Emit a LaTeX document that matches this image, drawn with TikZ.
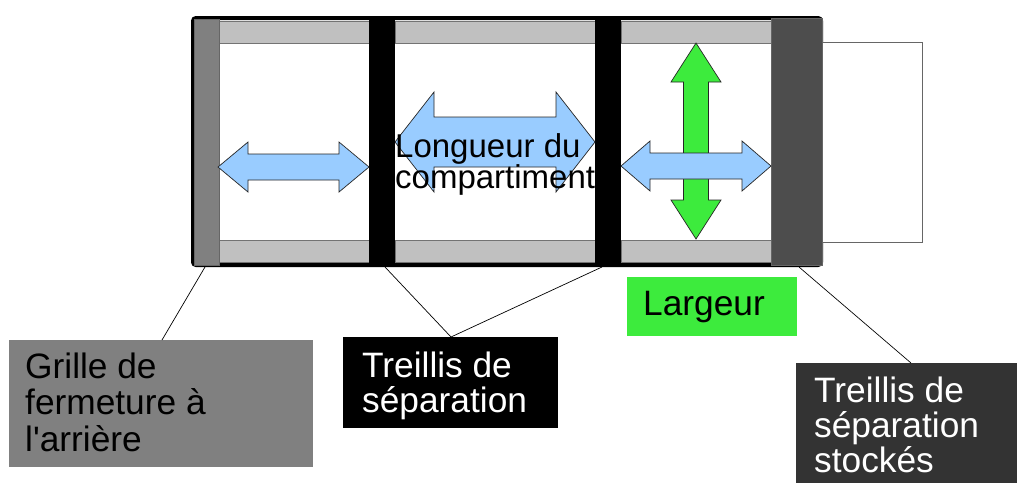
\documentclass[tikz,border=0pt]{standalone}
\usepackage{fontspec}
\setmainfont{Liberation Sans}
\usetikzlibrary{calc}
\definecolor{bluearrow}{HTML}{99CCFF}
\definecolor{greenarrow}{HTML}{3DEB3D}
\definecolor{stripgrey}{HTML}{C0C0C0}
\definecolor{bargrey}{HTML}{808080}
\definecolor{bardark}{HTML}{4D4D4D}
\definecolor{boxdark}{HTML}{333333}
\newcommand{\myHArrow}[6]{% xl xr yc shaft head headlen
  \filldraw[arrowshape] (#1,#3) -- ({#1+#6},{#3-#5}) -- ({#1+#6},{#3-#4}) -- ({#2-#6},{#3-#4}) -- ({#2-#6},{#3-#5}) -- (#2,#3)
    -- ({#2-#6},{#3+#5}) -- ({#2-#6},{#3+#4}) -- ({#1+#6},{#3+#4}) -- ({#1+#6},{#3+#5}) -- cycle;}
\newcommand{\myVArrow}[6]{% yt yb xc shaft head headlen
  \filldraw[arrowshape] (#3,#1) -- ({#3-#5},{#1+#6}) -- ({#3-#4},{#1+#6}) -- ({#3-#4},{#2-#6}) -- ({#3-#5},{#2-#6}) -- (#3,#2)
    -- ({#3+#5},{#2-#6}) -- ({#3+#4},{#2-#6}) -- ({#3+#4},{#1+#6}) -- ({#3+#5},{#1+#6}) -- cycle;}
\begin{document}
\begin{tikzpicture}[x=1pt,y=-1pt,
  arrowshape/.style={fill=bluearrow,draw=black!85,line width=0.7pt,line join=miter},
  strip/.style={fill=stripgrey,draw=black!55,line width=0.7pt},
  labelbox/.style={rectangle,inner sep=0pt,anchor=north west},
  labeltext/.style={inner sep=0pt,anchor=base west,font=\fontsize{35.3}{36}\selectfont},
  leader/.style={draw=black,line width=0.7pt}]
\useasboundingbox (0,0) rectangle (1017,483);
% outer container
\filldraw[fill=white,draw=black,line width=4pt,rounded corners=3pt] (193,18) rectangle (821,265);
% strips
\draw[strip] (218,21) rectangle (369,43);
\draw[strip] (395,21) rectangle (595,43);
\draw[strip] (621,21) rectangle (771,43);
\draw[strip] (218,240) rectangle (369,262);
\draw[strip] (395,240) rectangle (595,262);
\draw[strip] (621,240) rectangle (771,262);
% separators
\fill[black] (369,18) rectangle (395,265);
\fill[black] (595,18) rectangle (621,265);
% rear grille
\filldraw[fill=bargrey,draw=black!60,line width=0.7pt] (194,19) rectangle (219,265);
% stored separators
\filldraw[fill=bardark,draw=black!60,line width=0.7pt] (771,18) rectangle (822,265);
% extension
\filldraw[fill=white,draw=black!60,line width=0.8pt] (822,42) rectangle (922,242);
% arrows
\myHArrow{218}{369}{167}{13}{25}{30}
\myHArrow{395}{595}{142}{25}{50}{39}
\begin{scope}[arrowshape/.append style={fill=greenarrow}]
\myVArrow{43}{239}{696}{12.5}{25}{39}
\end{scope}
\myHArrow{621}{771}{166}{13}{25}{29}
\node[inner sep=0pt,anchor=base west,font=\fontsize{33}{28}\selectfont] (longtxt) at (395,157)
  {\vtop{\baselineskip=28pt\hbox{Longueur du}\hbox{compartiment}}};
% anchor points
\coordinate (gb) at (205,267);
\coordinate (s1) at (385,267);
\coordinate (s2) at (602,267);
\coordinate (db) at (799,267);
% label boxes
\node[labelbox,fill=bargrey,minimum width=304pt,minimum height=127pt] (greybox) at (9,340) {};
\node[labelbox,fill=black,minimum width=215pt,minimum height=91pt] (blackbox) at (343,337) {};
\node[labelbox,fill=greenarrow,minimum width=170pt,minimum height=59pt] (greenbox) at (627,277) {};
\node[labelbox,fill=boxdark,minimum width=221pt,minimum height=120pt] (darkbox) at (796,363) {};
% texts
\node[labeltext] (greytxt) at (25,378) {\vtop{\baselineskip=36.5pt\hbox{Grille de}\hbox{fermeture à}\hbox{l\textquotesingle arrière}}};
\node[labeltext,text=white] (blacktxt) at (362,377) {\vtop{\baselineskip=35pt\hbox{Treillis de}\hbox{séparation}}};
\node[labeltext] (greentxt) at (643,315) {Largeur};
\node[labeltext,text=white] (darktxt) at (814,402) {\vtop{\baselineskip=35pt\hbox{Treillis de}\hbox{séparation}\hbox{stockés}}};
% leaders
\draw[leader] (gb) -- ([xshift=153pt]greybox.north west);
\draw[leader] (s1) -- ([xshift=108pt]blackbox.north west);
\draw[leader] (s2) -- ([xshift=108pt]blackbox.north west);
\draw[leader] (db) -- ([xshift=115pt]darkbox.north west);
\end{tikzpicture}
\end{document}
